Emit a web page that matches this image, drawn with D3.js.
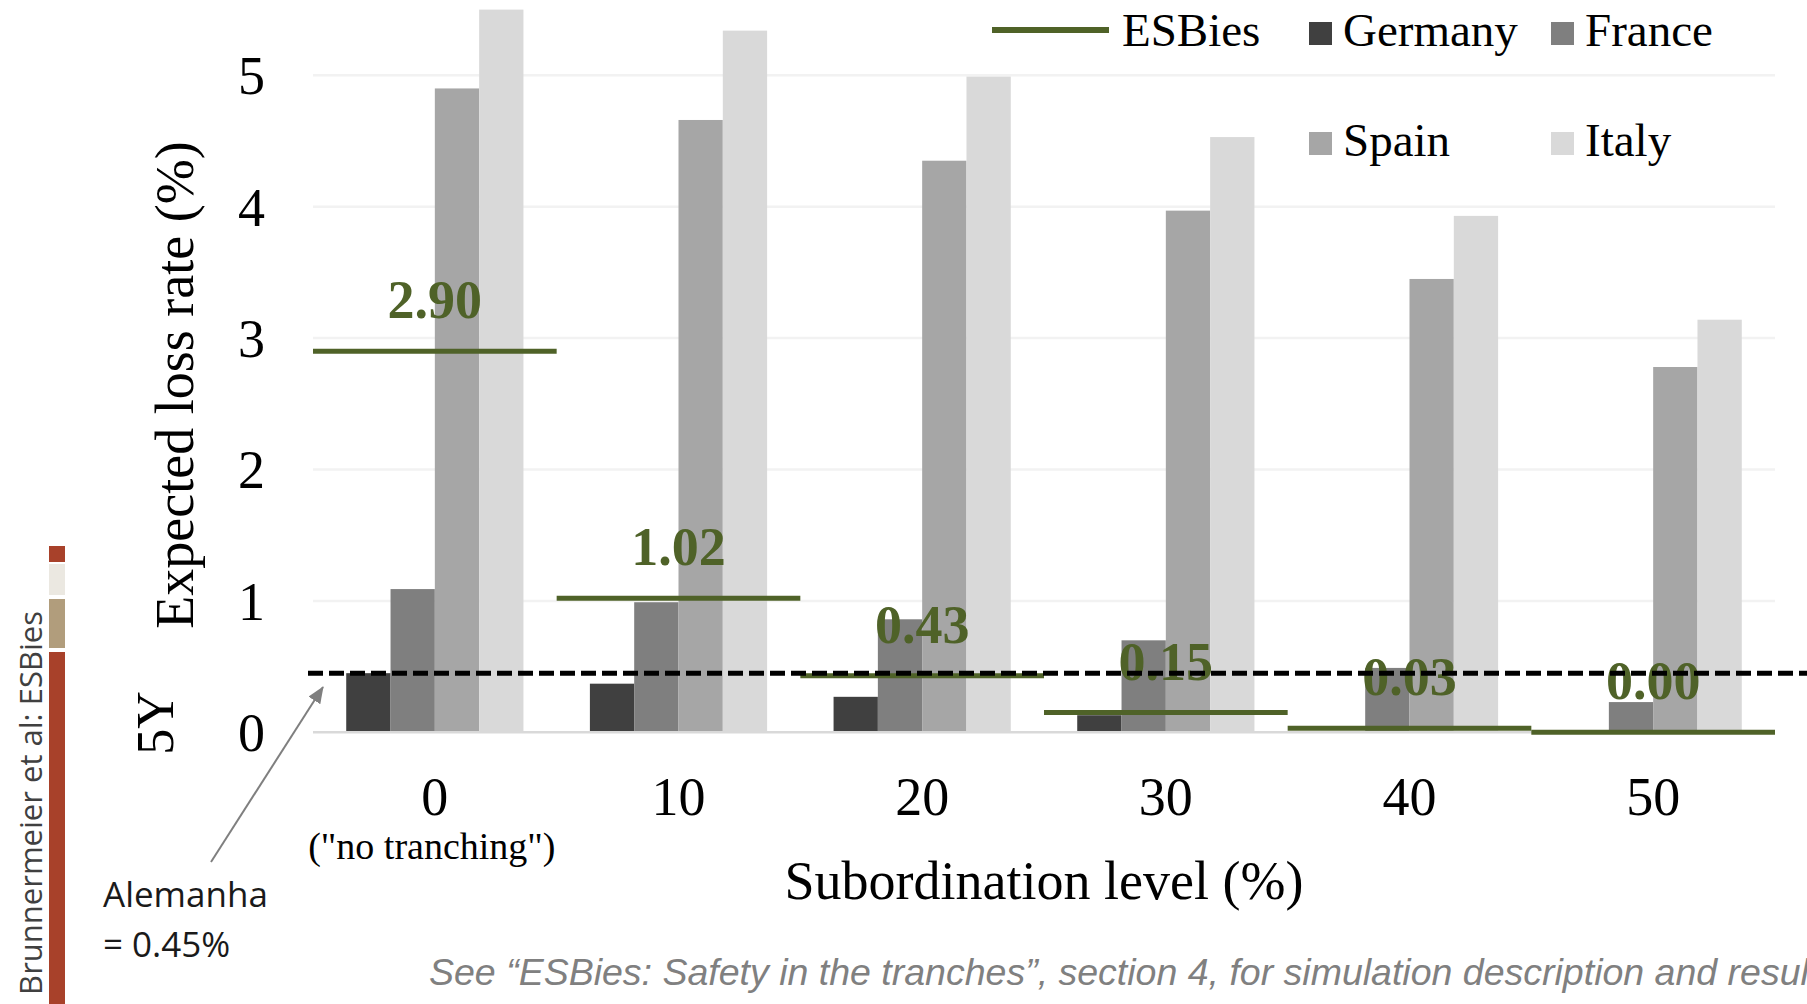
<!DOCTYPE html>
<html>
<head>
<meta charset="utf-8">
<script src="https://cdn.jsdelivr.net/npm/d3@7"></script>
<style>
  html, body { margin: 0; padding: 0; background: #ffffff; overflow: hidden; }
  svg { display: block; }
</style>
</head>
<body>
<svg id="chart" width="1807" height="1004"></svg>
<script>
// Subordination levels (%) on the x axis
const subordination = ["0", "10", "20", "30", "40", "50"];
// Expected 5Y loss rate (%) of the ESBies senior tranche
const esbies = [2.90, 1.02, 0.43, 0.15, 0.03, 0.00];
// Expected 5Y loss rate (%) of national sovereign bonds
const germany = [0.45, 0.37, 0.27, 0.13, 0.01, 0.00];
const france  = [1.09, 0.99, 0.86, 0.70, 0.49, 0.23];
const spain   = [4.90, 4.66, 4.35, 3.97, 3.45, 2.78];
const italy   = [5.50, 5.34, 4.99, 4.53, 3.93, 3.14];
const countries = ["Germany", "France", "Spain", "Italy"];
const countryColors = ["#404040", "#7f7f7f", "#a6a6a6", "#d9d9d9"];
const yTicks = [0, 1, 2, 3, 4, 5];
const germanyBenchmark = 0.45;

const seriesByCountry = { Germany: germany, France: france, Spain: spain, Italy: italy };

const serif = "'Liberation Serif', 'Times New Roman', serif";
const sans = "'Open Sans', 'Noto Sans', sans-serif";
const olive = "#4f6228";

const svg = d3.select("#chart");
svg.append("rect").attr("width", 1807).attr("height", 1004).attr("fill", "#ffffff");

const x = d3.scaleBand().domain(subordination).range([313, 1775]).paddingInner(0).paddingOuter(0);
const xSub = d3.scaleBand().domain(countries).range([0, x.bandwidth()]).paddingInner(0).paddingOuter(0.75);
const y = d3.scaleLinear().domain([0, 5]).range([732.3, 75.3]);
const color = d3.scaleOrdinal().domain(countries).range(countryColors);

// Decorative side strip
const strip = [
  { y0: 546, y1: 562, c: "#a8412a" },
  { y0: 564, y1: 595, c: "#ebe8e1" },
  { y0: 599, y1: 648, c: "#b19d7c" },
  { y0: 652, y1: 1004, c: "#a8412a" }
];
svg.append("g").selectAll("rect").data(strip).join("rect")
  .attr("x", 49).attr("width", 16)
  .attr("y", d => d.y0).attr("height", d => d.y1 - d.y0)
  .attr("fill", d => d.c);

svg.append("text")
  .attr("transform", "translate(42,611) rotate(-90)")
  .attr("text-anchor", "end")
  .attr("font-family", sans).attr("font-size", 31).attr("fill", "#404040")
  .text("Brunnermeier et al: ESBies");

// Horizontal gridlines
const yAxis = d3.axisLeft(y).tickValues(yTicks).tickSize(0).tickPadding(0).tickFormat(d3.format("d"));
svg.append("g").selectAll("line").data(yTicks.filter(t => t > 0)).join("line")
  .attr("x1", 313).attr("x2", 1775)
  .attr("y1", d => y(d)).attr("y2", d => y(d))
  .attr("stroke", "#f2f2f2").attr("stroke-width", 2.5);

// Y axis labels
const gy = svg.append("g").attr("transform", "translate(265,0)").call(yAxis);
gy.select(".domain").remove();
gy.selectAll("text")
  .attr("font-family", serif).attr("font-size", 54).attr("fill", "#000")
  .attr("dy", "0.34em").attr("x", 0);

// Bars
const groups = svg.append("g").selectAll("g").data(subordination).join("g")
  .attr("transform", d => `translate(${x(d)},0)`);
groups.selectAll("rect")
  .data((d, i) => countries.map(c => ({ country: c, value: seriesByCountry[c][i] })))
  .join("rect")
  .attr("x", d => xSub(d.country))
  .attr("width", xSub.bandwidth())
  .attr("y", d => y(d.value))
  .attr("height", d => y(0) - y(d.value))
  .attr("fill", d => color(d.country));

// Baseline
svg.append("line")
  .attr("x1", 313).attr("x2", 1775).attr("y1", y(0)).attr("y2", y(0))
  .attr("stroke", "#d9d9d9").attr("stroke-width", 2.5);

// ESBies tranche loss: one segment per subordination level
const esbiesData = subordination.map((s, i) => ({ s, v: esbies[i] }));
svg.append("g").selectAll("line").data(esbiesData).join("line")
  .attr("x1", d => x(d.s)).attr("x2", d => x(d.s) + x.bandwidth())
  .attr("y1", d => y(d.v)).attr("y2", d => y(d.v))
  .attr("stroke", olive).attr("stroke-width", 5);
svg.append("g").selectAll("text").data(esbiesData).join("text")
  .attr("x", d => x(d.s) + x.bandwidth() / 2)
  .attr("y", d => y(d.v) - 33)
  .attr("text-anchor", "middle")
  .attr("font-family", serif).attr("font-weight", "bold").attr("font-size", 54)
  .attr("fill", olive)
  .text(d => d.v.toFixed(2));

// Germany benchmark
svg.append("line")
  .attr("x1", 308).attr("x2", 1807)
  .attr("y1", y(germanyBenchmark)).attr("y2", y(germanyBenchmark))
  .attr("stroke", "#000").attr("stroke-width", 5).attr("stroke-dasharray", "15,6");

// X axis labels
const xAxis = d3.axisBottom(x).tickSize(0).tickPadding(0);
const gx = svg.append("g").attr("transform", "translate(0,815)").call(xAxis);
gx.select(".domain").remove();
gx.selectAll("text")
  .attr("font-family", serif).attr("font-size", 54).attr("fill", "#000")
  .attr("dy", 0).attr("y", 0);

svg.append("text")
  .attr("x", x("0") + x.bandwidth() / 2 - 3).attr("y", 859)
  .attr("text-anchor", "middle")
  .attr("font-family", serif).attr("font-size", 38).attr("fill", "#000")
  .text("(\"no tranching\")");

svg.append("text")
  .attr("x", 1044).attr("y", 899)
  .attr("text-anchor", "middle")
  .attr("font-family", serif).attr("font-size", 54).attr("fill", "#000")
  .text("Subordination level (%)");

svg.append("text")
  .attr("transform", "translate(193,385) rotate(-90)")
  .attr("text-anchor", "middle")
  .attr("font-family", serif).attr("font-size", 54).attr("fill", "#000")
  .text("Expected loss rate (%)");

svg.append("text")
  .attr("transform", "translate(173,723) rotate(-90)")
  .attr("text-anchor", "middle")
  .attr("font-family", serif).attr("font-size", 52).attr("fill", "#000")
  .text("5Y");

// Legend
const legend = svg.append("g");
legend.append("line")
  .attr("x1", 992).attr("x2", 1109).attr("y1", 30).attr("y2", 30)
  .attr("stroke", olive).attr("stroke-width", 6);
legend.append("text")
  .attr("x", 1122).attr("y", 46)
  .attr("font-family", serif).attr("font-size", 47).attr("fill", "#000")
  .text("ESBies");
const legendItems = [
  { c: "Germany", lx: 1309, ly: 22 },
  { c: "France",  lx: 1551, ly: 22 },
  { c: "Spain",   lx: 1309, ly: 132 },
  { c: "Italy",   lx: 1551, ly: 132 }
];
legend.selectAll("rect.key").data(legendItems).join("rect")
  .attr("class", "key")
  .attr("x", d => d.lx).attr("y", d => d.ly)
  .attr("width", 23).attr("height", 23)
  .attr("fill", d => color(d.c));
legend.selectAll("text.key").data(legendItems).join("text")
  .attr("class", "key")
  .attr("x", d => d.lx + 34).attr("y", d => d.ly + 24)
  .attr("font-family", serif).attr("font-size", 47).attr("fill", "#000")
  .text(d => d.c);

// Annotation arrow
const defs = svg.append("defs");
defs.append("marker")
  .attr("id", "arrowhead")
  .attr("markerUnits", "userSpaceOnUse")
  .attr("markerWidth", 18).attr("markerHeight", 14)
  .attr("refX", 16).attr("refY", 7)
  .attr("orient", "auto")
  .append("path")
  .attr("d", "M0,0 L17,7 L0,14 Z")
  .attr("fill", "#7f7f7f");
svg.append("line")
  .attr("x1", 211).attr("y1", 862).attr("x2", 323).attr("y2", 687)
  .attr("stroke", "#7f7f7f").attr("stroke-width", 2)
  .attr("marker-end", "url(#arrowhead)");

svg.append("text")
  .attr("x", 103).attr("y", 907)
  .attr("font-family", sans).attr("font-size", 35).attr("fill", "#1a1a1a")
  .text("Alemanha");
svg.append("text")
  .attr("x", 103).attr("y", 957)
  .attr("font-family", sans).attr("font-size", 35).attr("fill", "#1a1a1a")
  .text("= 0.45%");

// Source note
svg.append("text")
  .attr("x", 429).attr("y", 985)
  .attr("font-family", "'Liberation Sans', Arial, sans-serif")
  .attr("font-style", "italic").attr("font-size", 37.5).attr("fill", "#808080")
  .text("See \u201cESBies: Safety in the tranches\u201d, section 4, for simulation description and results");
</script>
</body>
</html>
